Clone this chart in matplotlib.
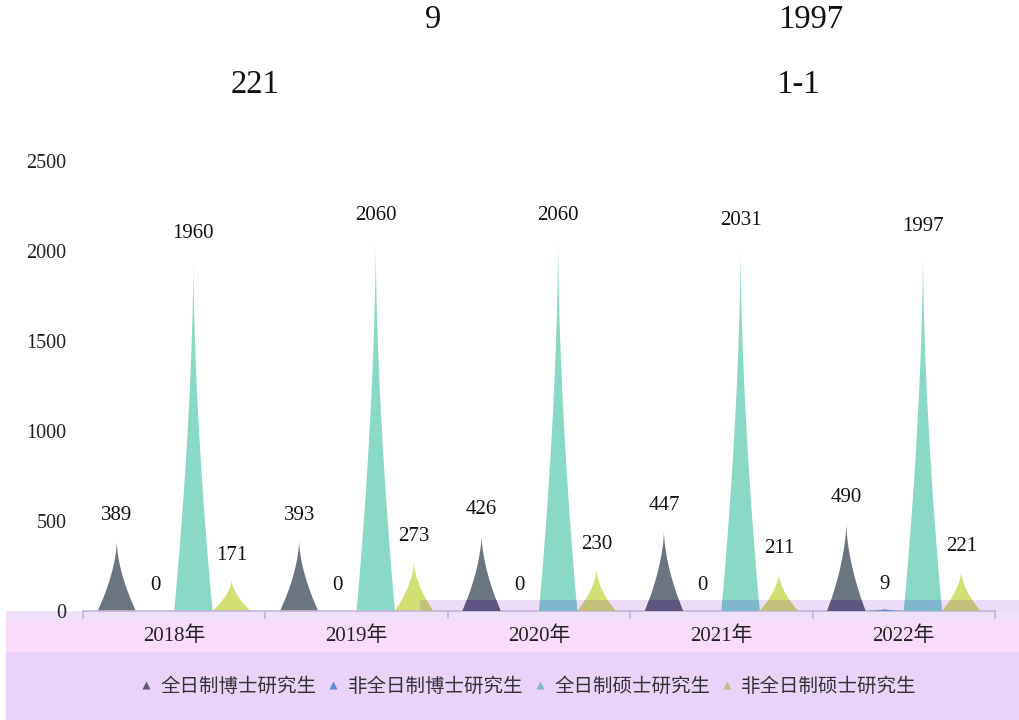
import numpy as np
import matplotlib
matplotlib.use("Agg")
import matplotlib.pyplot as plt
from matplotlib.patches import Polygon, Rectangle
from matplotlib.lines import Line2D

years = ["2018年", "2019年", "2020年", "2021年", "2022年"]
series = ["全日制博士研究生", "非全日制博士研究生", "全日制硕士研究生", "非全日制硕士研究生"]
phd_full = [389, 393, 426, 447, 490]
phd_part = [0, 0, 0, 0, 9]
master_full = [1960, 2060, 2060, 2031, 1997]
master_part = [171, 273, 230, 211, 221]
values = [phd_full, phd_part, master_full, master_part]

colors = ["#6b7580", "#5b8fd4", "#8ad8c6", "#d2e073"]
band_colors = ["#5e5580", "#5a8ed3", "#7fb8cc", "#c4c07c"]

serif = ["Liberation Serif", "Noto Sans CJK SC"]
cjk = ["Noto Sans CJK SC", "DejaVu Sans"]

W, H = 1019, 720
fig = plt.figure(figsize=(W / 100, H / 100), dpi=100)
fig.patch.set_facecolor("white")

# background bands (screenshot overlay)
def fig_rect(x0, y0, x1, y1, color):
    r = Rectangle((x0 / W, 1 - y1 / H), (x1 - x0) / W, (y1 - y0) / H,
                  transform=fig.transFigure, facecolor=color, edgecolor="none", zorder=-5)
    fig.add_artist(r)

fig_rect(420, 600, W, 612, "#ecdcf8")
fig_rect(6, 611, W, 621, "#efe0fa")
fig_rect(6, 621, W, 652, "#f8dcfa")
fig_rect(6, 652, W, H, "#ead3f8")

ax = fig.add_axes([83 / W, 109 / H, 912 / W, 450 / H])
ax.set_facecolor("none")
ax.set_xlim(-0.5, 4.5)
ax.set_ylim(0, 2500)

offsets = [-0.315, -0.105, 0.105, 0.315]
bw = 0.21
band_clip = Rectangle((1.35, -100), 4, 100 + 11 / 90 * 500, transform=ax.transData)

def spike(xc, h):
    v = np.linspace(0, 1, 80)
    half = bw / 2 * (1 - v) ** 1.7
    xs = np.concatenate([xc - half, (xc + half)[::-1]])
    ys = np.concatenate([v * h, (v * h)[::-1]])
    return np.column_stack([xs, ys])

for s, vals in enumerate(values):
    for i, val in enumerate(vals):
        xc = i + offsets[s]
        if val > 0:
            pts = spike(xc, val)
            ax.add_patch(Polygon(pts, closed=True, facecolor=colors[s], edgecolor="none", zorder=2))
            p2 = Polygon(pts, closed=True, facecolor=band_colors[s], edgecolor="none", zorder=3)
            ax.add_patch(p2)
            p2.set_clip_path(band_clip)
        ax.annotate(str(val), (xc, val), xytext=(0, 18), textcoords="offset points",
                    ha="center", va="center", fontsize=15, family=serif, color="#111111")

ax.set_xticks(np.arange(-0.5, 5, 1))
ax.set_xticklabels([])
ax.set_xticks(np.arange(5), minor=True)
ax.set_xticklabels(years, minor=True, family=serif, fontsize=15, color="#222222")
ax.tick_params(axis="x", which="major", length=6, color="#c4b4dc", width=1.2)
ax.tick_params(axis="x", which="minor", length=0, pad=11)
ax.set_yticks([0, 500, 1000, 1500, 2000, 2500])
ax.set_yticklabels(["0", "500", "1000", "1500", "2000", "2500"], family=serif,
                   fontsize=14.5, color="#222222")
ax.tick_params(axis="y", length=0, pad=12)
for sp in ["top", "right", "left"]:
    ax.spines[sp].set_visible(False)
ax.spines["bottom"].set_color("#c4b4dc")
ax.spines["bottom"].set_linewidth(1.2)

handles = [Line2D([], [], linestyle="none", marker="^", markersize=6,
                  markerfacecolor=c, markeredgecolor="none") for c in band_colors]
leg = fig.legend(handles, series, loc="center", bbox_to_anchor=(528 / W, 1 - 686 / H),
                 ncol=4, frameon=False, handlelength=0.7, handletextpad=0.4,
                 columnspacing=0.5, prop={"family": cjk, "size": 14})
for t in leg.get_texts():
    t.set_color("#333333")

# stray text at the top
for txt, x, y in [("9", 433, 20), ("1997", 811, 20), ("221", 255, 85), ("1-1", 798, 85)]:
    fig.text(x / W, 1 - y / H, txt, ha="center", va="center", fontsize=23.5,
             family=serif, color="#111111")

fig.savefig("out.png", dpi=100)
